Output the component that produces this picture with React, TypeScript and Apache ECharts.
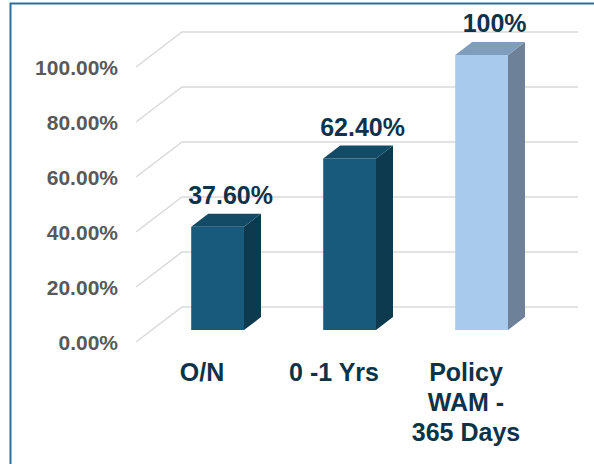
import React, { useEffect, useRef } from "react";
import * as echarts from "echarts";

const categories = ["O/N", "0 -1 Yrs", "Policy\nWAM -\n365 Days"];
const values = [37.6, 62.4, 100];
const valueLabels = ["37.60%", "62.40%", "100%"];
const yTicks = [0, 20, 40, 60, 80, 100];

const barFront = ["#175a7c", "#175a7c", "#a8caec"];
const barSide = ["#0e3a50", "#0e3a50", "#6d8299"];
const barTop = ["#134a66", "#134a66", "#7f9dbd"];

const FONT = "'Liberation Sans', Arial, sans-serif";
const DEPTH = { x: 46, y: -35 };
const BAR_PLANE = { x: 15.6, y: -11.9 };
const BAR_DEPTH = { x: 17, y: -13 };

export default function App() {
  const ref = useRef<HTMLDivElement>(null);
  useEffect(() => {
    document.body.style.margin = "0";
    const chart = echarts.init(ref.current!, null, { renderer: "svg" });
    chart.setOption({
      animation: false,
      backgroundColor: "#ffffff",
      graphic: [
        {
          type: "rect",
          shape: { x: 10.5, y: 3.5, width: 700, height: 700 },
          style: { fill: "none", stroke: "#2a6f9f", lineWidth: 2 },
          silent: true,
          z: 0,
        },
      ],
      grid: { left: 136, right: 62, top: 67, bottom: 122 },
      xAxis: {
        type: "category",
        data: categories,
        axisLine: { show: false },
        axisTick: { show: false },
        axisLabel: {
          interval: 0,
          margin: 15,
          fontFamily: FONT,
          fontSize: 25,
          fontWeight: "bold",
          color: "#0d3349",
          lineHeight: 30,
        },
      },
      yAxis: {
        type: "value",
        min: 0,
        max: 100,
        interval: 20,
        axisLine: { show: false },
        axisTick: { show: false },
        splitLine: { show: false },
        axisLabel: {
          margin: 18,
          fontFamily: FONT,
          fontSize: 21,
          fontWeight: "bold",
          color: "#595959",
          formatter: (v: number) => v.toFixed(2) + "%",
        },
      },
      series: [
        {
          type: "custom",
          silent: true,
          clip: false,
          z: 1,
          data: yTicks.map((v) => [0, v]),
          renderItem: (params: any, api: any) => {
            const cs = params.coordSys;
            const p = api.coord([0, api.value(1)]);
            const x0 = cs.x;
            const y = p[1];
            return {
              type: "polyline",
              shape: {
                points: [
                  [x0, y],
                  [x0 + DEPTH.x, y + DEPTH.y],
                  [x0 + cs.width + DEPTH.x, y + DEPTH.y],
                ],
              },
              style: { stroke: "#d9d9d9", lineWidth: 1.5, fill: "none" },
            };
          },
        },
        {
          type: "custom",
          silent: true,
          clip: false,
          z: 2,
          data: values.map((v, i) => [i, v]),
          renderItem: (params: any, api: any) => {
            const i = params.dataIndex;
            const top = api.coord([api.value(0), api.value(1)]);
            const base = api.coord([api.value(0), 0]);
            const w = api.size([1, 0])[0] * 0.4;
            const xl = top[0] - w / 2 + BAR_PLANE.x;
            const xr = xl + w;
            const yt = top[1] + BAR_PLANE.y;
            const yb = base[1] + BAR_PLANE.y;
            const dx = BAR_DEPTH.x;
            const dy = BAR_DEPTH.y;
            return {
              type: "group",
              children: [
                {
                  type: "rect",
                  shape: { x: xl, y: yt, width: w, height: yb - yt },
                  style: { fill: barFront[i] },
                },
                {
                  type: "polygon",
                  shape: {
                    points: [
                      [xr, yt],
                      [xr + dx, yt + dy],
                      [xr + dx, yb + dy],
                      [xr, yb],
                    ],
                  },
                  style: { fill: barSide[i] },
                },
                {
                  type: "polygon",
                  shape: {
                    points: [
                      [xl, yt],
                      [xl + dx, yt + dy],
                      [xr + dx, yt + dy],
                      [xr, yt],
                    ],
                  },
                  style: { fill: barTop[i] },
                },
                {
                  type: "text",
                  x: (xl + xr) / 2 + 13,
                  y: yt - 32,
                  style: {
                    text: valueLabels[i],
                    fontFamily: FONT,
                    fontSize: 25,
                    fontWeight: "bold",
                    fill: "#0d3349",
                    align: "center",
                    verticalAlign: "middle",
                  },
                },
              ],
            };
          },
        },
      ],
    });
    return () => chart.dispose();
  }, []);
  return <div ref={ref} style={{ width: 594, height: 464 }} />;
}
